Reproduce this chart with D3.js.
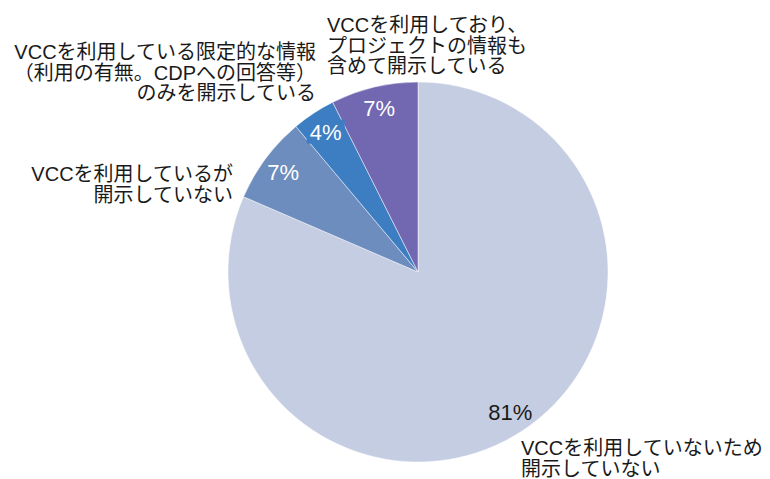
<!DOCTYPE html>
<html>
<head>
<meta charset="utf-8">
<script src="https://cdn.jsdelivr.net/npm/d3@7/dist/d3.min.js"></script>
<style>
  html, body { margin: 0; padding: 0; background: #fff; }
  svg { display: block; }
  text { font-family: "Liberation Sans", Arial, "Noto Sans CJK JP", sans-serif; }
</style>
</head>
<body>
<svg id="chart" width="770" height="479"></svg>
<script>
// ---- data ----
const categories = [
  "VCCを利用していないため開示していない",
  "VCCを利用しているが開示していない",
  "VCCを利用している限定的な情報（利用の有無。CDPへの回答等）のみを開示している",
  "VCCを利用しており、プロジェクトの情報も含めて開示している"
];
const counts = [22, 2, 1, 2];
const labelLines = [
  ["VCCを利用していないため", "開示していない"],
  ["VCCを利用しているが", "開示していない"],
  ["VCCを利用している限定的な情報", "（利用の有無。CDPへの回答等）", "のみを開示している"],
  ["VCCを利用しており、", "プロジェクトの情報も", "含めて開示している"]
];
const colors = ["#C4CDE1", "#6D8DBE", "#3D7EC3", "#7267B1"];

// ---- layout ----
const svg = d3.select("#chart");
const cx = 418, cy = 272, R = 190;
const g = svg.append("g").attr("transform", `translate(${cx},${cy})`);

const total = d3.sum(counts);
const data = counts.map((v, i) => ({ cat: categories[i], value: v, i }));
const pie = d3.pie().sort(null).value(d => d.value).startAngle(0).endAngle(2 * Math.PI);
const arcs = pie(data);
const arc = d3.arc().innerRadius(0).outerRadius(R);
const labelArc = d3.arc().innerRadius(168).outerRadius(168);

g.selectAll("path.slice").data(arcs).join("path")
  .attr("class", "slice")
  .attr("d", arc)
  .attr("fill", d => colors[d.data.i])
  .attr("stroke", "#ffffff")
  .attr("stroke-width", 0.8)
  .attr("stroke-opacity", 0.6);

const pct = d => d3.format(".0f")(d.data.value / total * 100) + "%";

// background box behind the small slice label
arcs.filter(d => d.data.i === 2).forEach(d => {
  const [x, y] = labelArc.centroid(d);
  g.append("rect")
    .attr("x", x - 19).attr("y", y - 12)
    .attr("width", 38).attr("height", 24)
    .attr("fill", colors[2]);
});

g.selectAll("text.pct").data(arcs).join("text")
  .attr("class", "pct")
  .attr("transform", d => `translate(${labelArc.centroid(d)})`)
  .attr("text-anchor", "middle")
  .attr("dy", "0.36em")
  .attr("font-size", 22)
  .attr("fill", d => d.data.i === 0 ? "#1a1a1a" : "#ffffff")
  .text(pct);

// category labels
const labelPos = [
  { x: 521, y: 455, anchor: "start" },
  { x: 233, y: 181, anchor: "end" },
  { x: 316, y: 59, anchor: "end" },
  { x: 327, y: 32, anchor: "start" }
];
const lineH = 20.5;
labelLines.forEach((lines, i) => {
  const p = labelPos[i];
  const t = svg.append("text")
    .attr("class", "cat")
    .attr("x", p.x).attr("y", p.y)
    .attr("text-anchor", p.anchor)
    .attr("font-size", 20)
    .attr("fill", "#1a1a1a");
  lines.forEach((ln, j) => {
    t.append("tspan").attr("x", p.x).attr("y", p.y + j * lineH).text(ln);
  });
});
</script>
</body>
</html>
